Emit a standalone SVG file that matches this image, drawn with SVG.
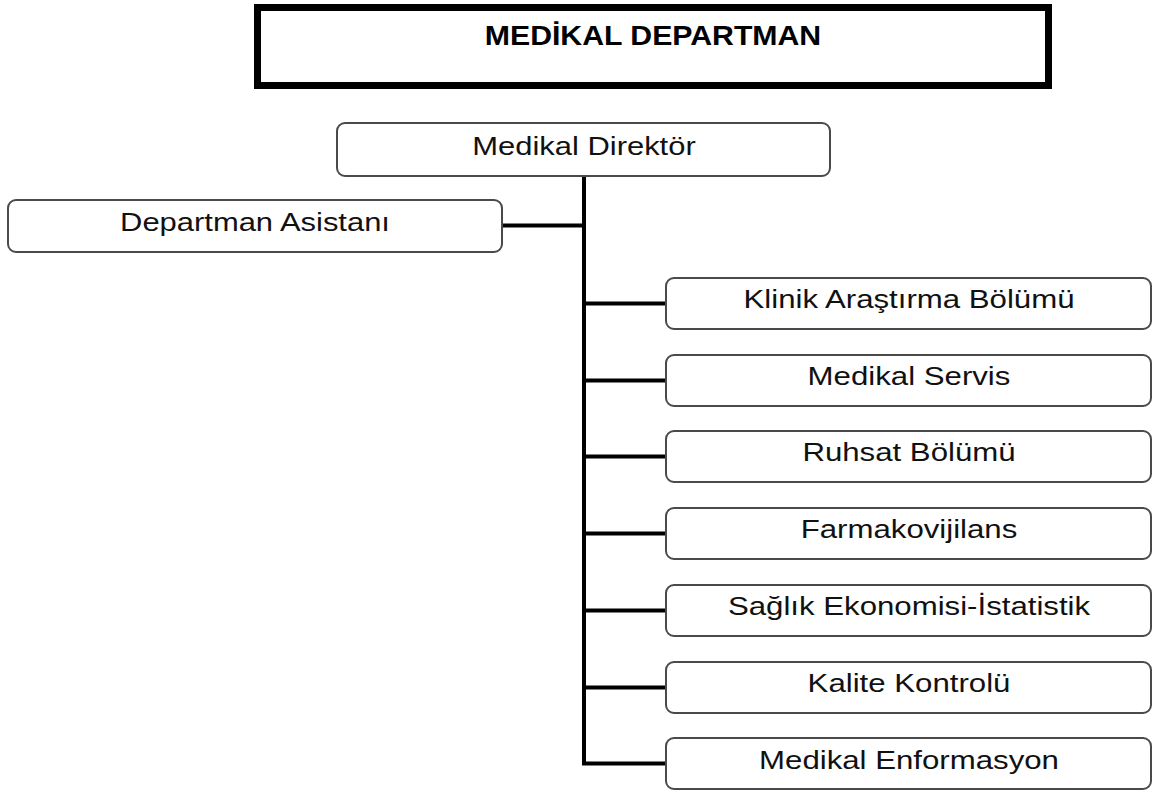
<svg xmlns="http://www.w3.org/2000/svg" width="1153" height="792" viewBox="0 0 1153 792">
<style>
.box{fill:#fff;stroke:#4a4a4a;stroke-width:2}
.lbl{font-family:"Liberation Sans",Arial,sans-serif;font-size:26px;fill:#111;text-anchor:middle}
.ttl{font-family:"Liberation Sans",Arial,sans-serif;font-size:28px;font-weight:bold;fill:#000;text-anchor:middle}
.con{fill:none;stroke:#000;stroke-width:4;stroke-linejoin:miter}
</style>
<rect width="1153" height="792" fill="#fff"/>
<g id="title">
<rect x="257.5" y="7.5" width="791" height="78" fill="#fff" stroke="#000" stroke-width="7"/>
<text class="ttl" transform="translate(653,45) scale(1.08,1)">MEDİKAL DEPARTMAN</text>
</g>
<g id="connectors">
<path class="con" d="M584,176 V763.5 H666"/>
<path class="con" d="M502,225.5 H584"/>
<path class="con" d="M584,303.5 H666"/>
<path class="con" d="M584,380.5 H666"/>
<path class="con" d="M584,456.5 H666"/>
<path class="con" d="M584,533.5 H666"/>
<path class="con" d="M584,610.5 H666"/>
<path class="con" d="M584,687.5 H666"/>
</g>
<g id="n-direktor">
<rect class="box" x="337" y="123" width="493" height="53" rx="8"/>
<text class="lbl" transform="translate(584,155) scale(1.19,1)">Medikal Direktör</text>
</g>
<g id="n-asistan">
<rect class="box" x="8" y="200" width="494" height="52" rx="8"/>
<text class="lbl" transform="translate(255,231) scale(1.19,1)">Departman Asistanı</text>
</g>
<g id="n-klinik">
<rect class="box" x="666" y="278" width="485" height="51" rx="8"/>
<text class="lbl" transform="translate(909,308) scale(1.2,1)">Klinik Araştırma Bölümü</text>
</g>
<g id="n-servis">
<rect class="box" x="666" y="355" width="485" height="51" rx="8"/>
<text class="lbl" transform="translate(909,385) scale(1.2,1)">Medikal Servis</text>
</g>
<g id="n-ruhsat">
<rect class="box" x="666" y="431" width="485" height="51" rx="8"/>
<text class="lbl" transform="translate(909,461) scale(1.2,1)">Ruhsat Bölümü</text>
</g>
<g id="n-farmako">
<rect class="box" x="666" y="508" width="485" height="51" rx="8"/>
<text class="lbl" transform="translate(909,538) scale(1.2,1)">Farmakovijilans</text>
</g>
<g id="n-saglik">
<rect class="box" x="666" y="585" width="485" height="51" rx="8"/>
<text class="lbl" transform="translate(909,615) scale(1.2,1)">Sağlık Ekonomisi-İstatistik</text>
</g>
<g id="n-kalite">
<rect class="box" x="666" y="662" width="485" height="51" rx="8"/>
<text class="lbl" transform="translate(909,692) scale(1.2,1)">Kalite Kontrolü</text>
</g>
<g id="n-enform">
<rect class="box" x="666" y="738" width="485" height="51" rx="8"/>
<text class="lbl" transform="translate(909,769) scale(1.2,1)">Medikal Enformasyon</text>
</g>
</svg>
